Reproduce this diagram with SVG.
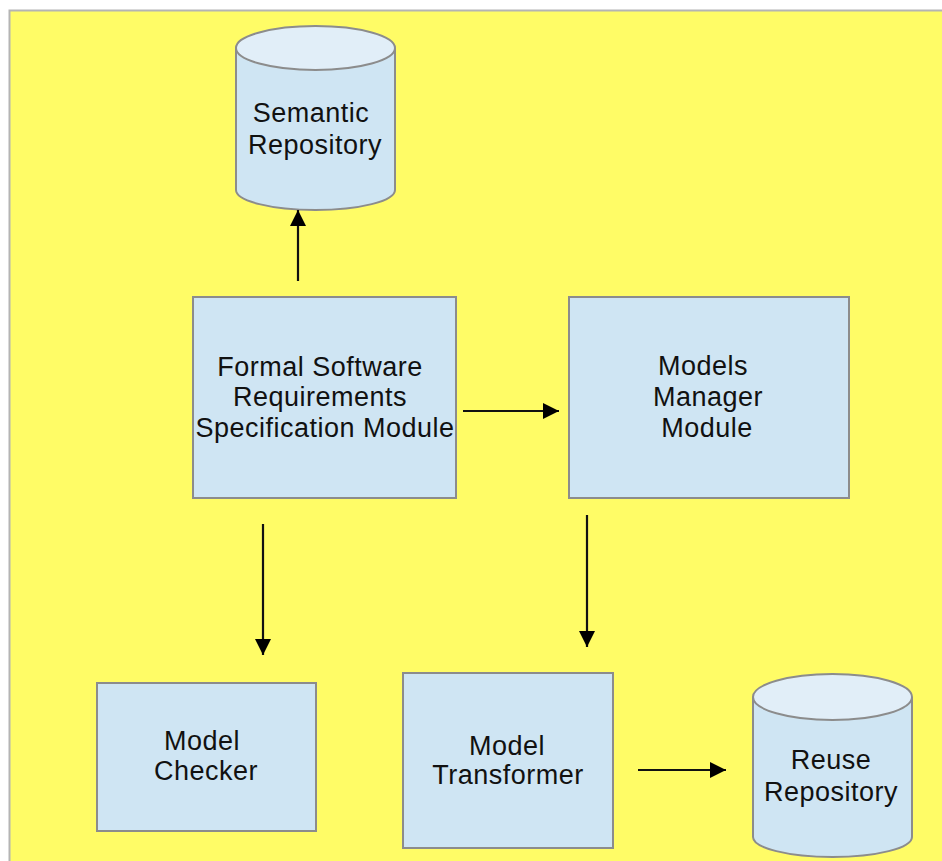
<svg xmlns="http://www.w3.org/2000/svg" width="942" height="861" viewBox="0 0 942 861">
<defs>
<style>
.box{fill:#cfe5f3;stroke:#8c8c8c;stroke-width:2}
.cyl{fill:#cfe5f3;stroke:#8c8c8c;stroke-width:2}
.cyltop{fill:#e1eef8;stroke:#8c8c8c;stroke-width:2}
.t{font-family:"Liberation Sans",Arial,sans-serif;font-size:27px;letter-spacing:0.5px;fill:#111;text-anchor:middle}
.edge{stroke:#111;stroke-width:2.2;fill:none;marker-end:url(#ah)}
</style>
<marker id="ah" viewBox="0 0 10 10" refX="10" refY="5" markerUnits="userSpaceOnUse" markerWidth="20" markerHeight="16" orient="auto">
<path d="M0,0 L10,5 L0,10 Z" fill="#000"/>
</marker>
</defs>
<rect x="0" y="0" width="942" height="861" fill="#ffffff"/>
<rect x="9.5" y="10.5" width="940" height="860" fill="#fffc66" stroke="#b4b4b4" stroke-width="2"/>

<g id="semantic-repository">
<path class="cyl" d="M236,48 L236,190 A79.5,20 0 0 0 395,190 L395,48"/>
<ellipse class="cyltop" cx="315.5" cy="48" rx="79.5" ry="22"/>
<text class="t" x="311" y="122">Semantic</text>
<text class="t" x="315" y="154">Repository</text>
</g>

<g id="formal-spec">
<rect class="box" x="193" y="297" width="263" height="201"/>
<text class="t" x="320" y="376">Formal Software</text>
<text class="t" x="320" y="406">Requirements</text>
<text class="t" x="325" y="437">Specification Module</text>
</g>

<g id="models-manager">
<rect class="box" x="569" y="297" width="280" height="201"/>
<text class="t" x="703" y="375">Models</text>
<text class="t" x="708" y="406">Manager</text>
<text class="t" x="707" y="437">Module</text>
</g>

<g id="model-checker">
<rect class="box" x="97" y="683" width="219" height="148"/>
<text class="t" x="202" y="750">Model</text>
<text class="t" x="206" y="780">Checker</text>
</g>

<g id="model-transformer">
<rect class="box" x="403" y="673" width="210" height="175"/>
<text class="t" x="507" y="755">Model</text>
<text class="t" x="508" y="784">Transformer</text>
</g>

<g id="reuse-repository">
<path class="cyl" d="M753,697 L753,837 A79.5,20 0 0 0 912,837 L912,697"/>
<ellipse class="cyltop" cx="832.5" cy="697" rx="79.5" ry="23"/>
<text class="t" x="831" y="769">Reuse</text>
<text class="t" x="831" y="801">Repository</text>
</g>

<g id="connectors">
<line class="edge" x1="298" y1="281" x2="298" y2="210"/>
<line class="edge" x1="463" y1="411" x2="559" y2="411"/>
<line class="edge" x1="263" y1="524" x2="263" y2="655"/>
<line class="edge" x1="587" y1="515" x2="587" y2="647"/>
<line class="edge" x1="638" y1="770" x2="726" y2="770"/>
</g>
</svg>
